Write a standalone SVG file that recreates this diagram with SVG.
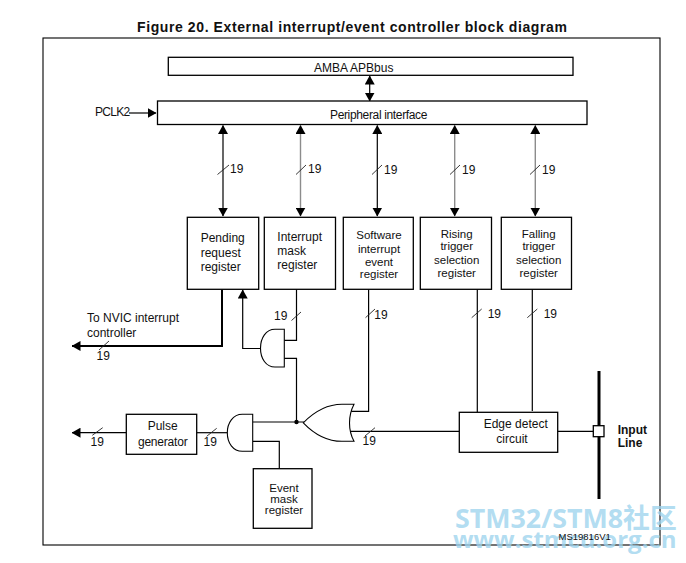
<svg xmlns="http://www.w3.org/2000/svg" width="686" height="563" viewBox="0 0 686 563">
  <style>
    text { font-family: "Liberation Sans", Arial, sans-serif; font-size: 12px; fill: #111; }
    .c { text-anchor: middle; }
    .title { font-size: 14px; font-weight: bold; letter-spacing: 0.6px; }
    .bold { font-weight: bold; }
    .small { font-size: 9.5px; }
    .tight { font-size: 11.5px; }
    .box { fill: #fff; stroke: #000; stroke-width: 1.3; }
    .wire { fill: none; stroke: #000; stroke-width: 1.2; }
    .grey { stroke: #8c8c8c; stroke-width: 1.4; }
    .thick { stroke-width: 2; }
    .bar { stroke-width: 3; }
    .slash { fill: none; stroke: #222; stroke-width: 0.9; }
    .gate { fill: #fff; stroke: #000; stroke-width: 1.1; }
    .wm { font-family: "Open Sans", "Noto Sans CJK SC", sans-serif; font-weight: bold; fill: #9ed4ee; fill-opacity: 0.8; }
    .wm1 { font-size: 26.8px; }
    .wm2 { font-size: 24px; }
  </style>
  <defs>
    <marker id="tip" markerUnits="userSpaceOnUse" viewBox="0 0 9 10" markerWidth="9" markerHeight="10" refX="8.500" refY="5" orient="auto-start-reverse">
      <path d="M0 0L9 5L0 10Z" fill="#000"/>
    </marker>
  </defs>

  <text class="title" x="137" y="32">Figure 20. External interrupt/event controller block diagram</text>
  <rect id="frame" x="43" y="38" width="617" height="507" fill="none" stroke="#000" stroke-width="1.1"/>

  <g id="connectors">
    <path class="wire" d="M369.700 76V101" marker-start="url(#tip)" marker-end="url(#tip)"/>
    <path class="wire" d="M129 113H156" marker-end="url(#tip)"/>
    <path class="wire" d="M223 125.500V216" marker-start="url(#tip)" marker-end="url(#tip)"/>
    <path class="wire grey" d="M300.500 125.500V216" marker-start="url(#tip)" marker-end="url(#tip)"/>
    <path class="wire" d="M377.300 125.500V216" marker-start="url(#tip)" marker-end="url(#tip)"/>
    <path class="wire grey" d="M454.700 125.500V216" marker-start="url(#tip)" marker-end="url(#tip)"/>
    <path class="wire grey" d="M535.300 125.500V216" marker-start="url(#tip)" marker-end="url(#tip)"/>
    <path class="wire thick" d="M222 289.500V346H72" marker-end="url(#tip)"/>
    <path class="wire" d="M261 348.500H242.700V290" marker-end="url(#tip)"/>
    <path class="wire" d="M296.500 289.500V340.300H284"/>
    <path class="wire" d="M284 358.300H296.500V422"/>
    <path class="wire" d="M253 422H304"/>
    <path class="wire" d="M253 441.300H279.300V468.500"/>
    <path class="wire" d="M351 411.300H368.600V289.500"/>
    <path class="wire" d="M350 431.300H459.500"/>
    <path class="wire" d="M477.300 289.500V412.500"/>
    <path class="wire" d="M532.300 289.500V411"/>
    <path class="wire" d="M557.500 431.300H594"/>
    <path class="wire" d="M196.700 432.700H228"/>
    <path class="wire" d="M126.500 432.700H72" marker-end="url(#tip)"/>
    <path class="wire bar" d="M599 371V499"/>
    <circle cx="296.500" cy="422" r="2.200" fill="#000"/>
    <path class="slash" d="M217.500 174.500L229 165M296 174.500L306 165M372 174.500L382 165M450 174.500L460 165M530 174.500L540 165"/>
    <path class="slash" d="M291.500 320.500L301 312M365.500 317.700L375 309M471.700 317.700L481.700 309M527.300 317.700L537.300 309"/>
    <path class="slash" d="M99 350L109 341M365 436L375 427.700M92.300 435.300L102.700 427.700M206.700 436.300L216.700 428.300"/>
  </g>

  <g id="amba-bus">
    <rect class="box" x="168.300" y="57.300" width="404.700" height="18"/>
    <text x="314" y="71.500">AMBA  APBbus</text>
  </g>
  <g id="peripheral-interface">
    <rect class="box" x="157.500" y="101" width="429.500" height="23.500"/>
    <text x="330" y="119" letter-spacing="-0.35">Peripheral interface</text>
  </g>
  <g id="pclk2"><text x="95" y="116" letter-spacing="-0.7">PCLK2</text></g>

  <g id="pending-request-register">
    <rect class="box" x="187.300" y="217.300" width="71.400" height="72"/>
    <text x="200.700" y="242">Pending</text>
    <text x="200.700" y="256.700">request</text>
    <text x="200.700" y="270.700">register</text>
  </g>
  <g id="interrupt-mask-register">
    <rect class="box" x="264.300" y="217.300" width="71.200" height="72"/>
    <text x="277.300" y="240.700">Interrupt</text>
    <text x="277.300" y="254.500">mask</text>
    <text x="277.300" y="269">register</text>
  </g>
  <g id="software-interrupt-event-register">
    <rect class="box" x="343.300" y="217.300" width="70" height="72"/>
    <text class="c tight" x="379" y="238.700">Software</text>
    <text class="c tight" x="379" y="252.700">interrupt</text>
    <text class="c tight" x="379" y="265.700">event</text>
    <text class="c tight" x="379" y="278">register</text>
  </g>
  <g id="rising-trigger-selection-register">
    <rect class="box" x="420.300" y="217.300" width="71.200" height="72"/>
    <text class="c tight" x="456.700" y="238">Rising</text>
    <text class="c tight" x="456.700" y="250">trigger</text>
    <text class="c tight" x="456.700" y="263.700">selection</text>
    <text class="c tight" x="456.700" y="277">register</text>
  </g>
  <g id="falling-trigger-selection-register">
    <rect class="box" x="501.300" y="217.300" width="70.200" height="72"/>
    <text class="c tight" x="538.700" y="238">Falling</text>
    <text class="c tight" x="538.700" y="250">trigger</text>
    <text class="c tight" x="538.700" y="263.700">selection</text>
    <text class="c tight" x="538.700" y="277">register</text>
  </g>

  <g id="nvic-label">
    <text x="87" y="322">To NVIC interrupt</text>
    <text x="87" y="337">controller</text>
  </g>

  <g id="bus-widths">
    <text x="230" y="173">19</text>
    <text x="308" y="173">19</text>
    <text x="384" y="174">19</text>
    <text x="462" y="174">19</text>
    <text x="542" y="174">19</text>
    <text x="274" y="320">19</text>
    <text x="374.300" y="319">19</text>
    <text x="487.700" y="318">19</text>
    <text x="543.700" y="318">19</text>
    <text x="96.500" y="360">19</text>
    <text x="362.500" y="445">19</text>
    <text x="90.500" y="445.700">19</text>
    <text x="203.500" y="445.700">19</text>
  </g>

  <g id="and-gate-upper">
    <path class="gate" d="M284.300 329.300H275C266 329.300 260.500 338 260.500 348.200C260.500 358.500 266 367 275 367H284.300Z"/>
  </g>
  <g id="and-gate-lower">
    <path class="gate" d="M252.700 414.300H242.300C233 414.300 227.300 423 227.300 432.800C227.300 443 233 451.300 242.300 451.300H252.700Z"/>
  </g>
  <g id="or-gate">
    <path class="gate" d="M303.300 422.800C315 411 328 404.300 342 404.300H354C348 416 348 430 354 441.300H342C328 441.300 315 435 303.300 422.800Z"/>
  </g>

  <g id="pulse-generator">
    <rect class="box" x="126.300" y="414.300" width="70.400" height="40"/>
    <text class="c" x="162.700" y="430.300">Pulse</text>
    <text class="c" x="162.700" y="445.700" letter-spacing="-0.2">generator</text>
  </g>
  <g id="event-mask-register">
    <rect class="box" x="253.300" y="468.700" width="58.700" height="59.600"/>
    <text class="c tight" x="284" y="492">Event</text>
    <text class="c tight" x="284" y="502.700">mask</text>
    <text class="c tight" x="284" y="514">register</text>
  </g>
  <g id="edge-detect-circuit">
    <rect class="box" x="459.300" y="412.300" width="98.400" height="40"/>
    <text x="483.700" y="427.700">Edge detect</text>
    <text class="c" x="512" y="443.300">circuit</text>
  </g>
  <g id="input-line">
    <rect class="box" x="593.300" y="425.700" width="10.700" height="11"/>
    <text class="bold" x="617.700" y="434">Input</text>
    <text class="bold" x="617.700" y="446.700">Line</text>
  </g>

  <text class="wm wm1" x="455" y="528">STM32/STM8社区</text>
  <text class="wm wm2" x="453" y="548">www.stmcu.org.cn</text>
  <text class="small" x="558.500" y="540">MS19816V1</text>
</svg>
